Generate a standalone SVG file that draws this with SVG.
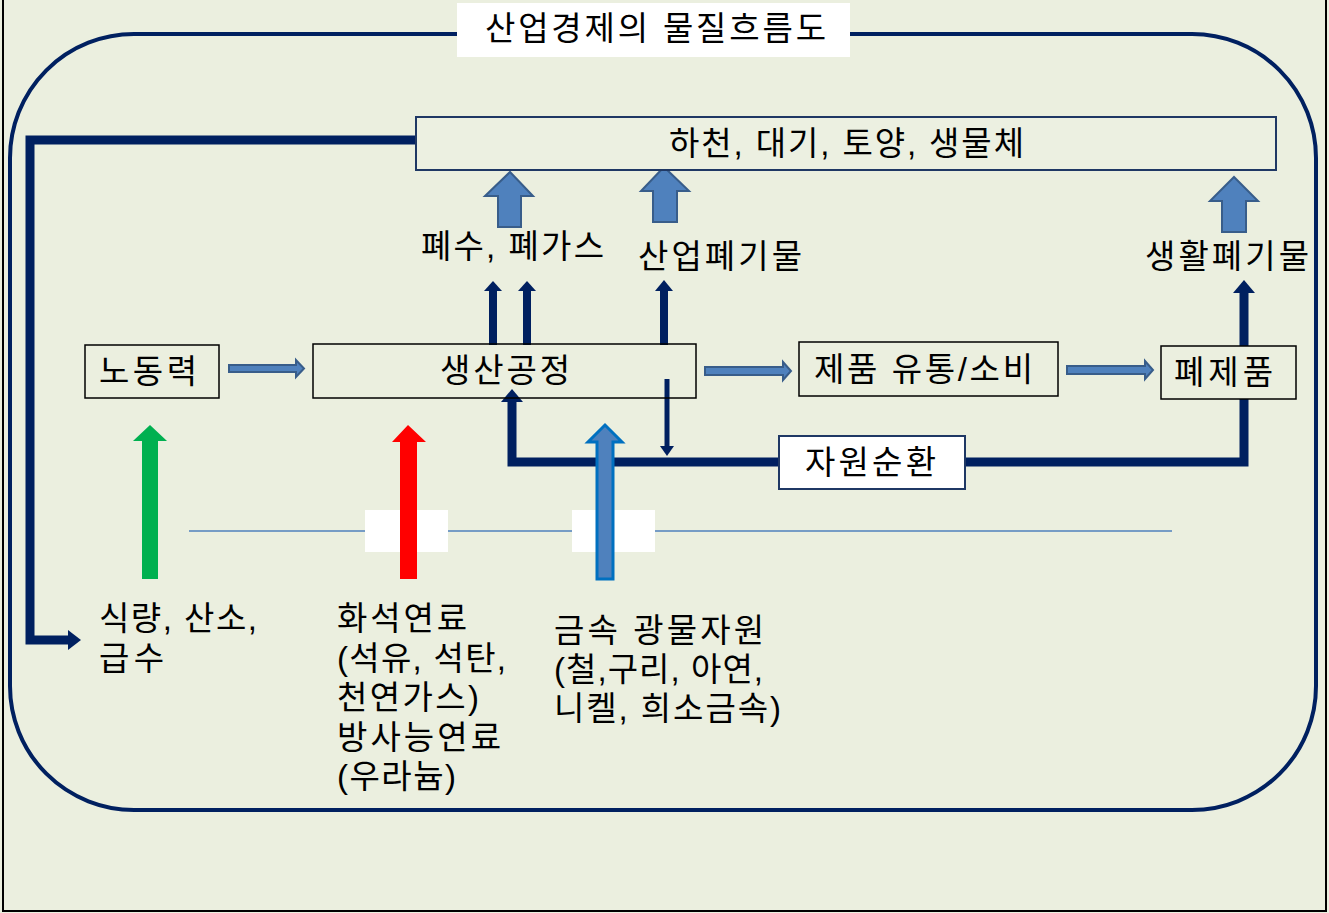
<svg xmlns="http://www.w3.org/2000/svg" width="1329" height="913" viewBox="0 0 1329 913">
<style>
text{font-family:"Liberation Sans","Noto Sans CJK KR",sans-serif;font-size:33px;fill:#000}
.box{fill:none;stroke:#000;stroke-width:1.5}
.navy{fill:none;stroke:#002060;stroke-width:9}
.navyth{fill:none;stroke:#002060;stroke-width:8}
.head{fill:#002060}
.barr{fill:#4F81BD;stroke:#385D8A;stroke-width:2}
</style>
<rect x="0" y="0" width="1329" height="913" fill="#EBEFDF"/>
<rect x="3" y="-2" width="1323" height="913" fill="none" stroke="#000" stroke-width="2"/>
<rect x="10" y="34" width="1306" height="776" rx="124" ry="124" fill="none" stroke="#002060" stroke-width="4"/>
<g id="title">
<rect x="457" y="3" width="393" height="54" fill="#fff"/>
<text x="485" y="40" textLength="341" lengthAdjust="spacing">산업경제의 물질흐름도</text>
</g>
<line x1="189" y1="531" x2="1172" y2="531" stroke="#4F81BD" stroke-width="1.5"/>
<rect x="365" y="510" width="83" height="42" fill="#fff"/>
<rect x="572" y="510" width="83" height="42" fill="#fff"/>
<g id="connectors">
<path class="navy" d="M416,140 H30 V640 H70"/>
<polygon class="head" points="68,630 81,640 68,650"/>
<path class="navy" d="M1244,399 V462 H512 V401"/>
<polygon class="head" points="501,402 512,389 523,402"/>
<line class="navyth" x1="493" y1="345" x2="493" y2="290"/>
<polygon class="head" points="484,291 493,281 502,291"/>
<line class="navyth" x1="527" y1="345" x2="527" y2="290"/>
<polygon class="head" points="518,291 527,281 536,291"/>
<line class="navyth" x1="664" y1="345" x2="664" y2="290"/>
<polygon class="head" points="655,291 664,280 673,291"/>
<line class="navy" x1="1244" y1="346" x2="1244" y2="292"/>
<polygon class="head" points="1233,293 1244,280 1255,293"/>
<line stroke="#002060" stroke-width="5" x1="667" y1="379" x2="667" y2="447"/>
<polygon class="head" points="660,446 667,456 674,446"/>
<polygon class="barr" points="229,365 296,365 296,360 304,368.5 296,377 296,372 229,372"/>
<polygon class="barr" points="705,367 783,367 783,362 791,371 783,380 783,375 705,375"/>
<polygon class="barr" points="1067,366 1145,366 1145,361 1153,370 1145,379 1145,374 1067,374"/>
<polygon class="barr" points="498,227 498,196 485,196 510,172 533,196 521,196 521,227"/>
<polygon class="barr" points="653,222 653,191 641,191 664,167 689,191 677,191 677,222"/>
<polygon class="barr" points="1222,232 1222,201 1210,201 1234,177 1258,201 1246,201 1246,232"/>
<polygon fill="#00B050" points="142,579 142,441 133,441 150,425 167,441 158,441 158,579"/>
<polygon fill="#FF0000" points="400,579 400,442 392,442 408,425 426,442 417,442 417,579"/>
<polygon fill="#4F81BD" stroke="#0070C0" stroke-width="3" points="597,579 597,442 588,442 605,425 622,442 613,442 613,579"/>
</g>
<g id="env">
<rect x="416" y="117" width="860" height="53" fill="#ECF0E1" stroke="#1F3864" stroke-width="2"/>
<text x="669" y="155" textLength="355" lengthAdjust="spacing">하천, 대기, 토양, 생물체</text>
</g>
<g id="waste1"><text x="421" y="258" textLength="183" lengthAdjust="spacing">폐수, 폐가스</text></g>
<g id="waste2"><text x="638" y="268" textLength="164" lengthAdjust="spacing">산업폐기물</text></g>
<g id="waste3"><text x="1145" y="268" textLength="164" lengthAdjust="spacing">생활폐기물</text></g>
<g id="labor">
<rect class="box" x="85" y="345" width="134" height="53"/>
<text x="99" y="383" textLength="98" lengthAdjust="spacing">노동력</text>
</g>
<g id="process">
<rect class="box" x="313" y="344" width="383" height="54"/>
<text x="440" y="382" textLength="130" lengthAdjust="spacing">생산공정</text>
</g>
<g id="product">
<rect class="box" x="799" y="342" width="259" height="54"/>
<text x="814" y="381" textLength="219" lengthAdjust="spacing">제품 유통/소비</text>
</g>
<g id="discard">
<rect class="box" x="1161" y="346" width="135" height="53"/>
<text x="1174" y="384" textLength="99" lengthAdjust="spacing">폐제품</text>
</g>
<g id="recycle">
<rect x="779" y="436" width="186" height="53" fill="#fff" stroke="#1F3864" stroke-width="2"/>
<text x="805" y="474" textLength="131" lengthAdjust="spacing">자원순환</text>
</g>
<g id="food">
<text x="99" y="630" textLength="158" lengthAdjust="spacing">식량, 산소,</text>
<text x="99" y="670" textLength="65" lengthAdjust="spacing">급수</text>
</g>
<g id="fuel">
<text x="337" y="630" textLength="130" lengthAdjust="spacing">화석연료</text>
<text x="337" y="670" textLength="169" lengthAdjust="spacing">(석유, 석탄,</text>
<text x="337" y="709" textLength="142" lengthAdjust="spacing">천연가스)</text>
<text x="337" y="749" textLength="164" lengthAdjust="spacing">방사능연료</text>
<text x="337" y="788" textLength="119" lengthAdjust="spacing">(우라늄)</text>
</g>
<g id="metal">
<text x="554" y="642" textLength="210" lengthAdjust="spacing">금속 광물자원</text>
<text x="554" y="681" textLength="209" lengthAdjust="spacing">(철,구리, 아연,</text>
<text x="554" y="720" textLength="227" lengthAdjust="spacing">니켈, 희소금속)</text>
</g>
</svg>
